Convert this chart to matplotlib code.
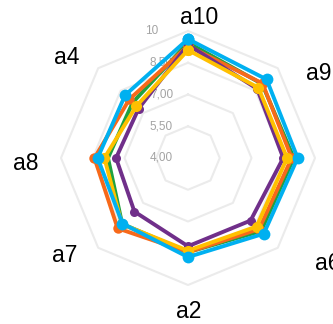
import numpy as np
import matplotlib
matplotlib.use("Agg")
import matplotlib.pyplot as plt
from matplotlib.transforms import offset_copy

categories = ["a10", "a9", "a5", "a6", "a2", "a7", "a8", "a4"]
tick_values = [4.0, 5.5, 7.0, 8.5, 10.0]
tick_labels = ["4,00", "5,50", "7,00", "8,50", "10"]

series_green = [9.45, 8.95, 9.00, 8.88, 8.45, 8.40, 7.78, 7.70]
series_orange = [9.30, 8.98, 8.90, 8.75, 8.45, 8.70, 8.42, 7.92]
series_purple = [9.35, 8.62, 8.50, 8.18, 8.17, 7.58, 7.40, 7.30]
series_gold = [9.10, 8.70, 8.68, 8.58, 8.38, 8.42, 7.95, 7.46]
series_blue = [9.62, 9.25, 9.18, 9.06, 8.68, 8.38, 8.27, 8.20]

W, H = 333, 324
fig = plt.figure(figsize=(W / 100, H / 100), dpi=100)
cx, cy, R = 188, 158, 127
ax = fig.add_axes([(cx - R) / W, (H - cy - R) / H, 2 * R / W, 2 * R / H], projection="polar")
ax.set_theta_zero_location("N")
ax.set_theta_direction(-1)
ax.set_ylim(4, 10)
ax.grid(False)
ax.set_xticks([])
ax.set_yticks([])
ax.spines["polar"].set_visible(False)
ax.patch.set_alpha(0)

n = len(categories)
theta = np.linspace(0, 2 * np.pi, n, endpoint=False)
theta_c = np.append(theta, theta[0])

for v in tick_values[1:]:
    ax.plot(theta_c, [v] * (n + 1), color="#EBEBEB", lw=1.5, zorder=1, clip_on=False)

for v, lab in zip(tick_values, tick_labels):
    off = -30 if lab == "10" else -15
    tr = offset_copy(ax.transData, fig=fig, x=off, y=0, units="dots")
    ax.text(0, v, lab, transform=tr, ha="right", va="center", fontsize=8.5,
            color="#A3A3A3", family="Liberation Sans", zorder=2)

def draw(vals, color, ms, marker="o"):
    v = np.append(vals, vals[0])
    ax.plot(theta_c, v, color=color, lw=2.8, marker=marker, ms=ms,
            markeredgewidth=0, zorder=3, clip_on=False)

draw(series_green, "#1FA140", 0, marker=None)
draw(series_orange, "#F7691A", 7.5)
draw(series_purple, "#702F8A", 6.5)
draw(series_gold, "#FFC000", 8)
draw(series_blue, "#00B0F0", 8.5)

# label positions (pixels); the right-hand label lies outside the cropped view
label_pos = {
    "a10": (199, 18), "a9": (319, 73), "a6": (328, 263),
    "a2": (189, 312), "a7": (65, 255), "a8": (26, 163), "a4": (67, 57),
}
for c in categories:
    if c not in label_pos:
        continue
    x, y = label_pos[c]
    fig.text(x / W, 1 - y / H, c, ha="center", va="center", fontsize=16.5,
             family="Liberation Sans", color="black")

fig.savefig("out.png", dpi=100)
